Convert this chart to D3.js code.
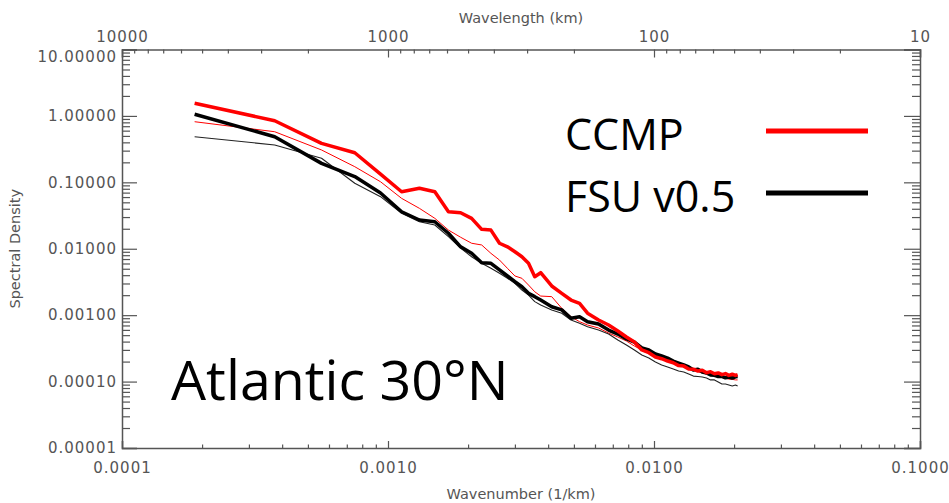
<!DOCTYPE html>
<html>
<head>
<meta charset="utf-8">
<script src="https://cdn.jsdelivr.net/npm/d3@7"></script>
<style>
  body { margin: 0; background: #fff; }
  .tick text { font-family: "DejaVu Sans", sans-serif; font-size: 15px; fill: #555; letter-spacing: 1px; }
  .domain, .tick line { stroke: #555; }
</style>
</head>
<body>
<svg id="chart" width="949" height="503"></svg>
<script>
// wavenumber (1/km) of the plotted spectral estimates
const wavenumber = [0.0001875, 0.000375, 0.0005625, 0.00075, 0.0009375, 0.001125, 0.0013125, 0.0015, 0.0016875, 0.001875,
  0.0020625, 0.00225, 0.0024375, 0.002625, 0.0028125, 0.003, 0.0031875, 0.003375, 0.0035625, 0.00375,
  0.004125, 0.0045, 0.004875, 0.00525, 0.005625, 0.0061875, 0.00675, 0.0073125, 0.007875, 0.0084375,
  0.009, 0.0095625, 0.010125, 0.0106875, 0.01125, 0.0118125, 0.012375, 0.0129375, 0.0135, 0.0140625,
  0.014625, 0.0151875, 0.01575, 0.0163125, 0.016875, 0.0174375, 0.018, 0.0185625, 0.019125, 0.0196875,
  0.02025, 0.020625];

// CCMP (thick red)
const ccmp = [1.55, 0.847, 0.386, 0.279, 0.133, 0.0722, 0.0813, 0.0722, 0.0361, 0.0349,
  0.0287, 0.0196, 0.0191, 0.0121, 0.0107, 0.00902, 0.00758, 0.00604, 0.00379, 0.00436,
  0.00275, 0.00213, 0.00169, 0.00151, 0.00107, 0.000845, 0.000711, 0.000578, 0.000469, 0.000394,
  0.000299, 0.000272, 0.000234, 0.000221, 0.000204, 0.000192, 0.000174, 0.000171, 0.000155, 0.000154,
  0.000144, 0.000148, 0.000136, 0.000141, 0.000131, 0.000135, 0.000127, 0.000132, 0.000124, 0.000129,
  0.000124, 0.000127];

// CCMP second estimate (thin red)
const ccmpThin = [0.818, 0.578, 0.307, 0.172, 0.102, 0.0574, 0.0406, 0.0287, 0.0191, 0.0149,
  0.0121, 0.0114, 0.00853, 0.00676, 0.00507, 0.00389, 0.00359, 0.00284, 0.00225, 0.00194,
  0.0019, 0.00127, 0.000948, 0.000798, 0.000711, 0.000641, 0.000539, 0.000469, 0.000408, 0.000343,
  0.000299, 0.000269, 0.000243, 0.000226, 0.000204, 0.00019, 0.000178, 0.000166, 0.000157, 0.000149,
  0.000142, 0.000135, 0.00013, 0.000126, 0.000121, 0.000117, 0.000115, 0.000112, 0.000109, 0.000108,
  0.000106, 0.000106];

// FSU v0.5 (thick black)
const fsu = [1.06, 0.486, 0.193, 0.122, 0.0691, 0.0361, 0.0271, 0.0255, 0.0171, 0.0107,
  0.00853, 0.00616, 0.00604, 0.00479, 0.00389, 0.00319, 0.00268, 0.00213, 0.0019, 0.00169,
  0.00134, 0.0012, 0.000897, 0.000948, 0.000798, 0.000736, 0.000597, 0.00052, 0.000438, 0.000394,
  0.000321, 0.000299, 0.00026, 0.000243, 0.000226, 0.000204, 0.00019, 0.000178, 0.000166, 0.000149,
  0.000153, 0.000139, 0.000135, 0.000126, 0.000124, 0.000119, 0.00012, 0.000114, 0.000117, 0.000113,
  0.000118, 0.000119];

// FSU second estimate (thin black)
const fsuThin = [0.486, 0.365, 0.23, 0.0967, 0.0608, 0.0342, 0.0255, 0.0228, 0.0152, 0.0102,
  0.00758, 0.00604, 0.00507, 0.00427, 0.00359, 0.00302, 0.00239, 0.00201, 0.0016, 0.00142,
  0.0012, 0.00107, 0.000845, 0.000754, 0.00067, 0.000597, 0.00052, 0.000423, 0.000356, 0.000299,
  0.000251, 0.000226, 0.000197, 0.000178, 0.000166, 0.000155, 0.000144, 0.000139, 0.00013, 0.000121,
  0.000119, 0.000117, 0.000113, 0.000106, 0.000106, 0.0000984, 0.0000918, 0.0000918, 0.0000887, 0.0000857,
  0.0000887, 0.0000857];

const series = [
  {name: 'ccmpThin', values: ccmpThin, color: '#ff0000', width: 1},
  {name: 'fsuThin', values: fsuThin, color: '#222', width: 1.1},
  {name: 'fsu', values: fsu, color: '#000', width: 3.5},
  {name: 'ccmp', values: ccmp, color: '#ff0000', width: 3.5}
];

const legend = [
  {label: 'CCMP', color: '#ff0000'},
  {label: 'FSU v0.5', color: '#000'}
];

const xMajor = [0.0001, 0.001, 0.01, 0.1];
const yMajor = [0.00001, 0.0001, 0.001, 0.01, 0.1, 1, 10];
const wlMajor = [10000, 1000, 100, 10];

const svg = d3.select('#chart');
const plotLeft = 122, plotRight = 920, plotTop = 49.5, plotBottom = 448;

const x = d3.scaleLog().domain([0.0001, 0.1]).range([plotLeft, plotRight]);
const y = d3.scaleLog().domain([0.00001, 10]).range([plotBottom, plotTop]);
const wl = d3.scaleLog().domain([10000, 10]).range([plotLeft, plotRight]);

// minor ticks: 2..9 within each decade
const minorOf = majors => majors.slice(0, -1).flatMap(m => d3.range(2, 10).map(k => m * k));
const minorDesc = majors => majors.slice(0, -1).flatMap(m => d3.range(9, 1, -1).map(k => m / 10 * k));

// Bottom axis
svg.append('g').attr('transform', `translate(0,${plotBottom})`)
    .call(d3.axisBottom(x).tickValues(xMajor).tickSize(-7).tickPadding(14).tickFormat(d3.format('.4f')));
svg.append('g').attr('transform', `translate(0,${plotBottom})`)
    .call(d3.axisBottom(x).tickValues(minorOf(xMajor)).tickSize(-3.5).tickFormat(''))
    .select('.domain').remove();

// Top axis (wavelength)
svg.append('g').attr('transform', `translate(0,${plotTop})`)
    .call(d3.axisTop(wl).tickValues(wlMajor).tickSize(-8).tickPadding(8).tickFormat(d3.format('d')));
svg.append('g').attr('transform', `translate(0,${plotTop})`)
    .call(d3.axisTop(wl).tickValues(minorDesc(wlMajor)).tickSize(-4).tickFormat(''))
    .select('.domain').remove();

// Left axis
const yAxis = svg.append('g').attr('transform', `translate(${plotLeft},0)`)
    .call(d3.axisLeft(y).tickValues(yMajor).tickSize(-15).tickPadding(5).tickFormat(d3.format('.5f')));
// topmost label sits a little below its tick, as in the original
yAxis.selectAll('.tick text').filter(d => d === 10).attr('dy', '0.8em');
svg.append('g').attr('transform', `translate(${plotLeft},0)`)
    .call(d3.axisLeft(y).tickValues(minorOf(yMajor)).tickSize(-8).tickFormat(''))
    .select('.domain').remove();

// Right axis
svg.append('g').attr('transform', `translate(${plotRight},0)`)
    .call(d3.axisRight(y).tickValues(yMajor).tickSize(-16).tickFormat(''));
svg.append('g').attr('transform', `translate(${plotRight},0)`)
    .call(d3.axisRight(y).tickValues(minorOf(yMajor)).tickSize(-8).tickFormat(''))
    .select('.domain').remove();

svg.selectAll('.domain').attr('stroke-width', 1.5);
svg.selectAll('.tick line').attr('stroke-width', 1.2);

// Axis titles
const axisText = sel => sel.attr('font-family', 'DejaVu Sans, sans-serif').attr('font-size', 14.5)
    .attr('fill', '#555').attr('text-anchor', 'middle');
svg.append('text').call(axisText).attr('x', (plotLeft + plotRight) / 2).attr('y', 23).text('Wavelength (km)');
svg.append('text').call(axisText).attr('x', (plotLeft + plotRight) / 2).attr('y', 499).text('Wavenumber (1/km)');
svg.append('text').call(axisText).attr('transform', `translate(20,${(plotTop + plotBottom) / 2}) rotate(-90)`)
    .text('Spectral Density');

// Lines
const line = d3.line()
    .x((d, i) => x(wavenumber[i]))
    .y(d => y(d));

svg.append('g').selectAll('path')
    .data(series)
    .join('path')
    .attr('d', d => line(d.values))
    .attr('fill', 'none')
    .attr('stroke', d => d.color)
    .attr('stroke-width', d => d.width)
    .attr('stroke-linejoin', 'round');

// Legend
const lg = svg.append('g').selectAll('g')
    .data(legend)
    .join('g')
    .attr('transform', (d, i) => `translate(0,${i * 62})`);
lg.append('text')
    .attr('x', 565).attr('y', 150)
    .attr('font-family', 'Open Sans, sans-serif').attr('font-size', 43)
    .attr('fill', '#000')
    .text(d => d.label);
lg.append('line')
    .attr('x1', 766).attr('x2', 868).attr('y1', 131).attr('y2', 131)
    .attr('stroke', d => d.color).attr('stroke-width', 5);

// Region label
svg.append('text')
    .attr('x', 171).attr('y', 400)
    .attr('font-family', 'Open Sans, sans-serif').attr('font-size', 55.5)
    .attr('fill', '#000')
    .text('Atlantic 30°N');
</script>
</body>
</html>
